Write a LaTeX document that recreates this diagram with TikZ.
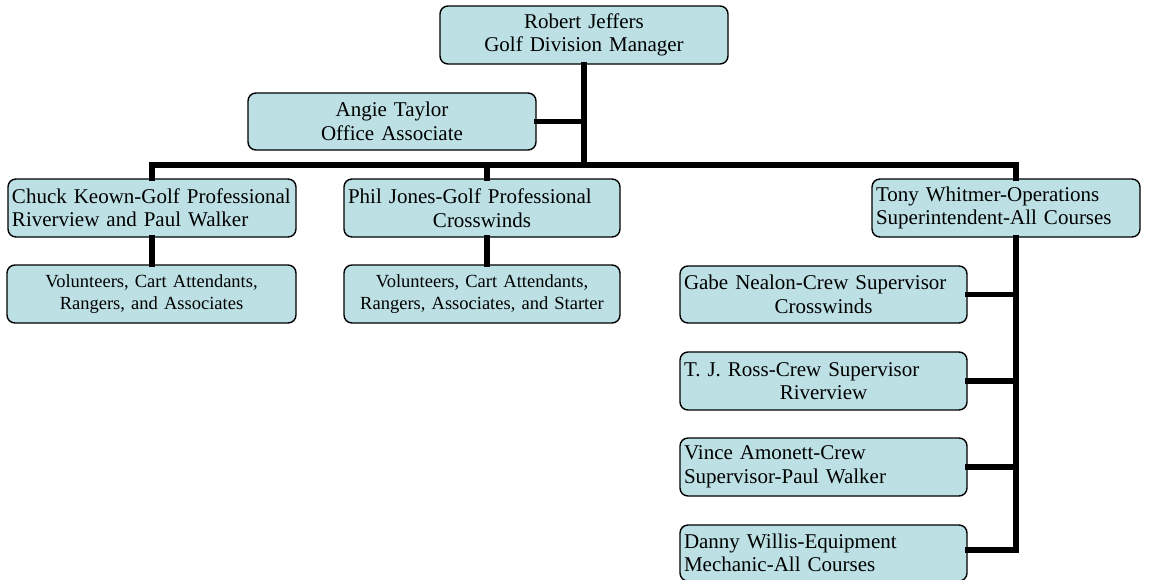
\documentclass[tikz,border=0pt]{standalone}
\usepackage{fontspec}
\setmainfont{Liberation Serif}
\definecolor{boxfill}{RGB}{188,224,228}
\begin{document}
\begin{tikzpicture}[x=1pt,y=-1pt,
  box/.style={draw=black, line width=1.4pt, rounded corners=8pt, fill=boxfill,
    inner xsep=4pt, inner ysep=0pt, font=\fontsize{21}{23.5}\selectfont},
  subbox/.style={box, font=\fontsize{18.5}{21.5}\selectfont},
  conn/.style={line width=5.5pt, line cap=rect, draw=black}]
\useasboundingbox (0,0) rectangle (1150,579);
% boxes
\node[box, text width=280pt, minimum height=58pt, align=center] (top) at (584,35)
  {Robert Jeffers\\Golf Division Manager};
\node[box, text width=280pt, minimum height=57pt, align=center] (angie) at (392,121.5)
  {Angie Taylor\\Office Associate};
\node[box, text width=280pt, minimum height=58pt, align=left] (chuck) at (152,208)
  {Chuck Keown-Golf Professional\\Riverview and Paul Walker};
\node[subbox, text width=281pt, minimum height=58pt, align=center] (chucksub) at (151.5,294)
  {Volunteers, Cart Attendants,\\Rangers, and Associates};
\node[box, text width=268pt, minimum height=58pt, align=center] (phil) at (482,208)
  {\makebox[\hsize][l]{Phil Jones-Golf Professional}\\Crosswinds};
\node[subbox, text width=268pt, minimum height=58pt, align=center] (philsub) at (482,294)
  {Volunteers, Cart Attendants,\\Rangers, Associates, and Starter};
\node[box, text width=260pt, minimum height=58pt, align=left] (tony) at (1006,208)
  {Tony Whitmer-Operations\\Superintendent-All Courses};
\node[box, text width=279pt, minimum height=57pt, align=center] (gabe) at (823.5,294.5)
  {\makebox[\hsize][l]{Gabe Nealon-Crew Supervisor}\\Crosswinds};
\node[box, text width=279pt, minimum height=58pt, align=center] (ross) at (823.5,381)
  {\makebox[\hsize][l]{T. J. Ross-Crew Supervisor}\\Riverview};
\node[box, text width=279pt, minimum height=58pt, align=left] (vince) at (823.5,467)
  {Vince Amonett-Crew\\Supervisor-Paul Walker};
\node[box, text width=279pt, minimum height=56pt, align=left] (danny) at (823.5,553)
  {Danny Willis-Equipment\\Mechanic-All Courses};
% bus coordinates
\coordinate (busL) at (152,165);
\coordinate (philx) at (487,165);
\coordinate (tonyx) at (1016,165);
% connectors
\draw[conn] (top.south) -- (top.south |- busL);
\draw[conn] (angie.east) -- (angie.east -| top.south);
\draw[conn] (busL) -- (tonyx);
\draw[conn] (busL) -- (chuck.north);
\draw[conn] (chuck.south) -- (chucksub.north -| chuck.south);
\draw[conn] (philx) -- (philx |- phil.north);
\draw[conn] (philx |- phil.south) -- (philx |- philsub.north);
\draw[conn] (tonyx) -- (tonyx |- tony.north);
\draw[conn] (tonyx |- tony.south) -- (tonyx |- 0,550);
\draw[conn] (gabe.east) -- (gabe.east -| tonyx);
\draw[conn] (ross.east) -- (ross.east -| tonyx);
\draw[conn] (vince.east) -- (vince.east -| tonyx);
\draw[conn] (danny.east |- 0,550) -- (tonyx |- 0,550);
\end{tikzpicture}
\end{document}
